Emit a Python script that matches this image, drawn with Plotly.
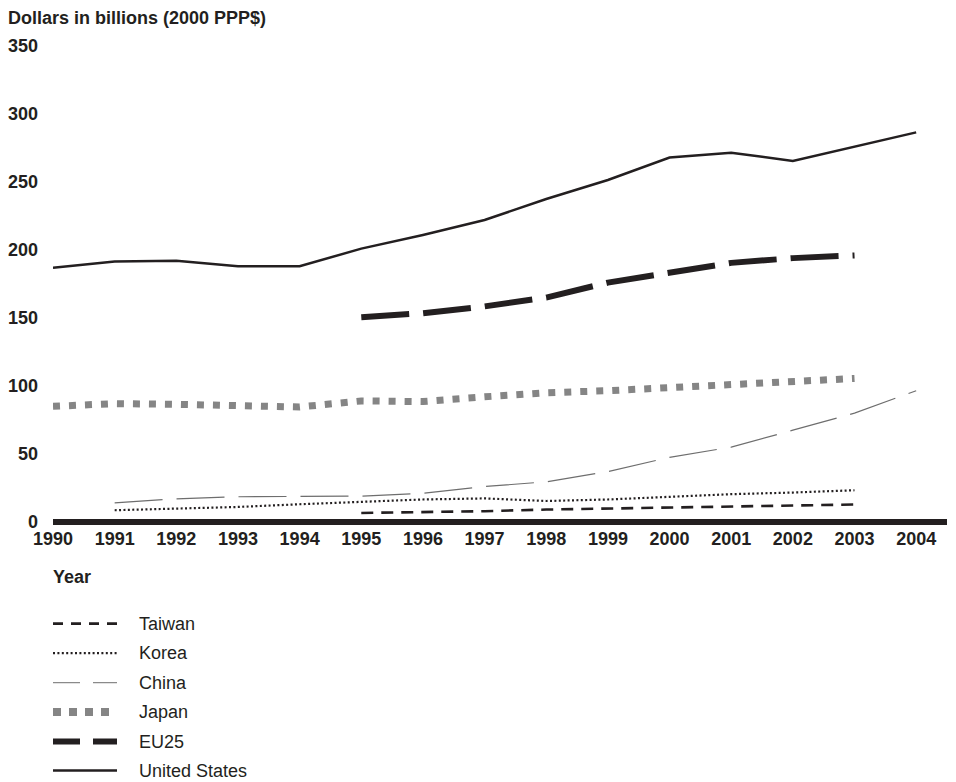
import plotly.graph_objects as go

# ---------------- data ----------------
years = list(range(1990, 2005))
tick_labels = [str(y) for y in years]
y_ticks = [0, 50, 100, 150, 200, 250, 300, 350]

united_states = [187, 191.5, 192, 188, 188, 201, 211, 222, 237.5, 251.5, 268, 271.5, 265.5, 276, 286.5]
eu25 = [None, None, None, None, None, 150.5, 153.5, 158.5, 165, 176, 183.5, 190.5, 194, 196, None]
japan = [85, 87, 86.5, 85, 84.5, 89, 88.5, 92, 95, 96.5, 99, 101.5, 103, 105.5, None]
china = [None, 14, 17, 18.5, 18.5, 19, 21, 26, 29.5, 37, 47.5, 55, 67.5, 80, 96.5]
korea = [None, 8.6, 9.8, 11, 13, 14.7, 16.5, 17.3, 15.4, 16.5, 18.4, 20.4, 21.6, 23.3, None]
taiwan = [None, None, None, None, None, 6.6, 7.1, 7.9, 9.1, 9.8, 10.6, 11, 11.7, 12.8, None]

legend_names = ["Taiwan", "Korea", "China", "Japan", "EU25", "United States"]

# ---------------- styles ----------------
INK = "#231f20"
styles = {
    "Taiwan": dict(color=INK, width=2.6, dash="12px,8px"),
    "Korea": dict(color=INK, width=2.2, dash="2px,2.4px"),
    "China": dict(color="#6e6e6e", width=1.2, dash="48px,14px"),
    "Japan": dict(color="#858585", width=7, dash="7px,9px"),
    "EU25": dict(color=INK, width=6, dash="48px,14px"),
    "United States": dict(color=INK, width=2.5, dash="solid"),
}
legend_styles = {
    "Taiwan": dict(color=INK, width=2.6, dash="10px,8px"),
    "Korea": dict(color=INK, width=2.2, dash="2px,2.4px"),
    "China": dict(color="#8a8a8a", width=1.2, dash="27px,13px"),
    "Japan": dict(color="#858585", width=8, dash="8px,8px"),
    "EU25": dict(color=INK, width=6, dash="27px,13px"),
    "United States": dict(color=INK, width=2.5, dash="solid"),
}
series = {
    "Japan": japan,
    "China": china,
    "Korea": korea,
    "Taiwan": taiwan,
    "EU25": eu25,
    "United States": united_states,
}

FONT = "Liberation Sans, Arial, Helvetica, sans-serif"
OFF = 8  # page body margin
W, H = 956 - OFF, 782 - OFF
L, R, T, B = 53 - OFF, 9, 45.5 - OFF, 256.2
plot_h = H - T - B
plot_w = W - L - R

fig = go.Figure()
for name, vals in series.items():
    fig.add_trace(go.Scatter(
        x=years, y=vals, mode="lines", name=name, showlegend=False,
        line=styles[name], connectgaps=False, hoverinfo="x+y+name",
    ))

# helpers: reference-screen pixel -> paper coords
def py(pix):
    return (H - B - (pix - OFF)) / plot_h

def px(pix):
    return ((pix - OFF) - L) / plot_w

annotations = [
    dict(text="<b>Dollars in billions (2000 PPP$)</b>", x=px(6), y=py(17),
         xref="paper", yref="paper", xanchor="left", yanchor="middle",
         showarrow=False, font=dict(size=18, color=INK, family=FONT)),
    dict(text="<b>Year</b>", x=px(51), y=py(577),
         xref="paper", yref="paper", xanchor="left", yanchor="middle",
         showarrow=False, font=dict(size=18, color=INK, family=FONT)),
]
shapes = []
row_y = [623.5, 653, 682.5, 712, 741.5, 770.5]
for name, yy in zip(legend_names, row_y):
    shapes.append(dict(type="line", xref="paper", yref="paper",
                       x0=px(53), x1=px(117), y0=py(yy), y1=py(yy),
                       line=legend_styles[name]))
    annotations.append(dict(text=name, x=px(137), y=py(yy),
                            xref="paper", yref="paper", xanchor="left", yanchor="middle",
                            showarrow=False, font=dict(size=18, color=INK, family=FONT)))

fig.update_layout(
    width=W, height=H,
    margin=dict(l=L, r=R, t=T, b=B, pad=0, autoexpand=False),
    paper_bgcolor="white", plot_bgcolor="white",
    showlegend=False,
    font=dict(family=FONT, size=18, color=INK),
    xaxis=dict(
        range=[1990, 2004.5], tickmode="array", tickvals=years,
        ticktext=[f"<b>{t}</b>" for t in tick_labels],
        showgrid=False, zeroline=False, showline=False, ticks="",
        automargin=False,
        ticklabelstandoff=0, tickfont=dict(size=18, color=INK, family=FONT),
    ),
    yaxis=dict(
        range=[-3, 350], tickmode="array", tickvals=y_ticks,
        ticktext=[f"<b>{v}</b>" for v in y_ticks],
        showgrid=False, showline=False, ticks="",
        automargin=False,
        zeroline=True, zerolinewidth=6, zerolinecolor=INK,
        ticklabelstandoff=14, tickfont=dict(size=18, color=INK, family=FONT),
    ),
    annotations=annotations,
    shapes=shapes,
)

fig.write_html("out.html")
